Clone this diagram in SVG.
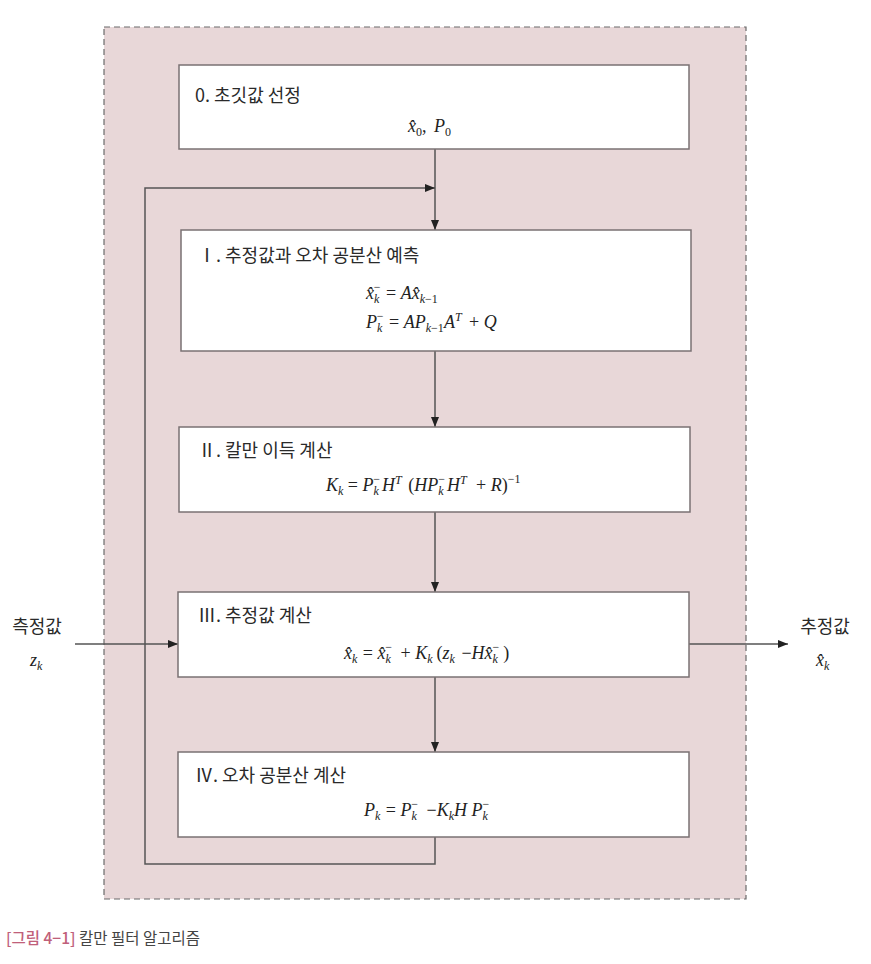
<svg xmlns="http://www.w3.org/2000/svg" width="871" height="964" viewBox="0 0 871 964">
<defs>
<style>
.bg{fill:#fff}
.frame{fill:#e8d7d8;stroke:#6a6a6a;stroke-width:1.2;stroke-dasharray:6 4}
.box{fill:#fff;stroke:#7a7273;stroke-width:1.5}
.ln{fill:none;stroke:#555;stroke-width:1.5}
.t{font-family:"Noto Sans CJK KR","Noto Sans",sans-serif;font-size:18px;fill:#2a2a2a}
.m{font-family:"Liberation Serif",serif;font-style:italic;font-size:18px;fill:#222}
.s{font-size:12px}
.n{font-style:normal}
.cap1{font-family:"Noto Sans CJK KR",sans-serif;font-size:15.5px;fill:#c0607a;font-weight:500}
.cap2{font-family:"Noto Sans CJK KR",sans-serif;font-size:15.5px;fill:#444}
</style>
<marker id="ah" markerWidth="10" markerHeight="8" refX="10" refY="4" orient="auto" markerUnits="userSpaceOnUse">
<path d="M0,0 L10,4 L0,8 Z" fill="#222"/>
</marker>
</defs>
<rect class="bg" x="0" y="0" width="871" height="964"/>
<rect class="frame" x="104" y="27" width="642" height="872"/>

<g id="connectors">
<line class="ln" x1="435" y1="149" x2="435" y2="230" marker-end="url(#ah)"/>
<polyline class="ln" points="435,837 435,864 145,864 145,188 435,188" marker-end="url(#ah)"/>
<line class="ln" x1="435" y1="351" x2="435" y2="427" marker-end="url(#ah)"/>
<line class="ln" x1="435" y1="512" x2="435" y2="592" marker-end="url(#ah)"/>
<line class="ln" x1="435" y1="677" x2="435" y2="752" marker-end="url(#ah)"/>
<line class="ln" x1="75" y1="644" x2="178" y2="644" marker-end="url(#ah)"/>
<line class="ln" x1="689" y1="644" x2="788" y2="644" marker-end="url(#ah)"/>
</g>

<g id="n0">
<rect class="box" x="179" y="65" width="510" height="84"/>
<text class="t" x="195" y="102">0. 초깃값 선정</text>
<text class="m" x="408" y="132">x̂<tspan class="s n" dy="4">0</tspan><tspan class="n" dy="-4">,  </tspan><tspan dx="3">P</tspan><tspan class="s n" dy="4">0</tspan></text>
</g>

<g id="n1">
<rect class="box" x="181" y="230" width="510" height="121"/>
<text class="t" x="198" y="262">Ⅰ. 추정값과 오차 공분산 예측</text>
<text class="m" x="366" y="299">x̂<tspan class="s" dy="4">k</tspan><tspan class="s n" dx="-5.5" dy="-12">−</tspan><tspan class="n" dy="8" dx="1"> = </tspan>Ax̂<tspan class="s" dy="4">k</tspan><tspan class="s n">−1</tspan></text>
<text class="m" x="366" y="328">P<tspan class="s" dy="4">k</tspan><tspan class="s n" dx="-5.5" dy="-12">−</tspan><tspan class="n" dy="8" dx="1"> = </tspan>AP<tspan class="s" dy="4">k</tspan><tspan class="s n">−1</tspan><tspan dy="-4">A</tspan><tspan class="s" dy="-7">T</tspan><tspan class="n" dy="7" dx="3"> + </tspan>Q</text>
</g>

<g id="n2">
<rect class="box" x="179" y="427" width="511" height="85"/>
<text class="t" x="198" y="457">Ⅱ. 칼만 이득 계산</text>
<text class="m" x="326" y="491">K<tspan class="s" dy="4">k</tspan><tspan class="n" dy="-4"> = </tspan>P<tspan class="s" dy="4">k</tspan><tspan class="s n" dx="-5.5" dy="-12">−</tspan><tspan dy="8" dx="2">H</tspan><tspan class="s" dy="-7">T</tspan><tspan class="n" dy="7" dx="2"> (</tspan>HP<tspan class="s" dy="4">k</tspan><tspan class="s n" dx="-5.5" dy="-12">−</tspan><tspan dy="8" dx="2">H</tspan><tspan class="s" dy="-7">T</tspan><tspan class="n" dy="7" dx="5"> + </tspan>R<tspan class="n">)</tspan><tspan class="s n" dy="-8">−1</tspan></text>
</g>

<g id="n3">
<rect class="box" x="178" y="592" width="511" height="85"/>
<text class="t" x="198" y="622">Ⅲ. 추정값 계산</text>
<text class="m" x="344" y="659">x̂<tspan class="s" dy="4">k</tspan><tspan class="n" dy="-4" dx="1"> = </tspan>x̂<tspan class="s" dy="4">k</tspan><tspan class="s n" dx="-5.5" dy="-12">−</tspan><tspan class="n" dy="8" dx="4"> + </tspan>K<tspan class="s" dy="4">k</tspan><tspan class="n" dy="-4" dx="4">(</tspan>z<tspan class="s" dy="4">k</tspan><tspan class="n" dy="-4" dx="2"> −</tspan>Hx̂<tspan class="s" dy="4">k</tspan><tspan class="s n" dx="-5.5" dy="-12">−</tspan><tspan class="n" dy="8" dx="4">)</tspan></text>
</g>

<g id="n4">
<rect class="box" x="178" y="752" width="511" height="85"/>
<text class="t" x="195" y="782">Ⅳ. 오차 공분산 계산</text>
<text class="m" x="364" y="816">P<tspan class="s" dy="4">k</tspan><tspan class="n" dy="-4" dx="1"> = </tspan>P<tspan class="s" dy="4">k</tspan><tspan class="s n" dx="-5.5" dy="-12">−</tspan><tspan class="n" dy="8" dx="4"> −</tspan>K<tspan class="s" dy="4">k</tspan><tspan dy="-4">H  P</tspan><tspan class="s" dy="4">k</tspan><tspan class="s n" dx="-5.5" dy="-12">−</tspan></text>
</g>

<g id="in">
<text class="t" x="37" y="633" text-anchor="middle">측정값</text>
<text class="m" x="30" y="666">z<tspan class="s" dy="4">k</tspan></text>
</g>
<g id="out">
<text class="t" x="825" y="633" text-anchor="middle">추정값</text>
<text class="m" x="816" y="666">x̂<tspan class="s" dy="4">k</tspan></text>
</g>

<text x="6" y="944"><tspan class="cap1">[그림 4−1]</tspan><tspan class="cap2"> 칼만 필터 알고리즘</tspan></text>
</svg>
